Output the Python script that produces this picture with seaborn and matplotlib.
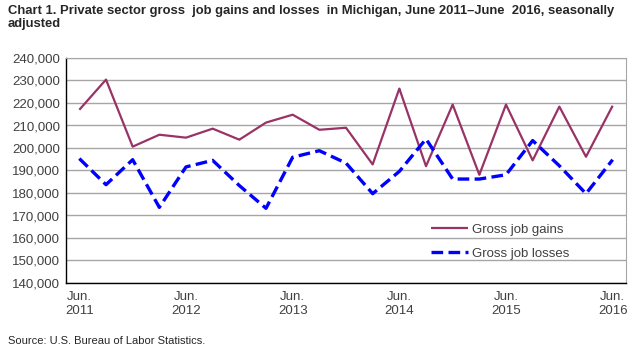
import matplotlib
matplotlib.use("Agg")
import matplotlib.pyplot as plt
import matplotlib.ticker as ticker
import seaborn as sns
import numpy as np
import pandas as pd

# quarterly, June 2011 .. June 2016
quarters = list(range(21))
tick_labels = ['Jun.\n2011', 'Jun.\n2012', 'Jun.\n2013', 'Jun.\n2014', 'Jun.\n2015', 'Jun.\n2016']
gains = [217000, 230400, 200600, 205900, 204600, 208600, 203700, 211300, 214800, 208100,
         209000, 192700, 226400, 191900, 219300, 188100, 219300, 194500, 218400, 196100, 218800]
losses = [195300, 183700, 194800, 173600, 191600, 194500, 183300, 173200, 195900, 198800,
          193300, 179700, 189600, 204000, 186200, 186200, 188100, 203300, 192100, 179700, 194800]

df = pd.DataFrame({
    'q': quarters * 2,
    'value': gains + losses,
    'series': ['Gross job gains'] * 21 + ['Gross job losses'] * 21,
})

sns.set_style('white')
plt.rcParams['font.family'] = ['Liberation Sans', 'DejaVu Sans']

fig = plt.figure(figsize=(6.42, 3.5), dpi=100)
ax = fig.add_axes([66 / 642, 1 - 283 / 350, 560 / 642, 225 / 350])

sns.lineplot(data=df, x='q', y='value', hue='series', style='series',
             palette=['#993366', '#0000ff'], dashes=[(1, 0), (3.5, 1.6)],
             size='series', sizes=[1.6, 2.4], ax=ax, legend=True)

ax.set_xlim(-0.5, 20.5)
ax.set_ylim(140000, 240000)
ax.yaxis.set_major_locator(ticker.MultipleLocator(10000))
ax.yaxis.set_major_formatter(ticker.FuncFormatter(lambda v, p: '{:,.0f}'.format(v)))
ax.set_xticks(quarters[::4])
ax.set_xticklabels(tick_labels)
ax.set_xticks(np.arange(-0.5, 21, 1), minor=True)
ax.tick_params(axis='x', which='major', length=0, pad=6, labelsize=9.5, labelcolor='#404040')
ax.tick_params(axis='x', which='minor', length=4, width=1, color='black', direction='out')
ax.tick_params(axis='y', length=0, pad=4, labelsize=9.5, labelcolor='#404040')
ax.grid(axis='y', color='#a6a6a6', linewidth=1)
ax.set_axisbelow(True)
ax.set_xlabel('')
ax.set_ylabel('')
for s in ['top', 'right']:
    ax.spines[s].set_color('#a6a6a6')
for s in ['left', 'bottom']:
    ax.spines[s].set_color('black')
    ax.spines[s].set_linewidth(1)

handles, labels = ax.get_legend_handles_labels()
leg = ax.legend(handles[:2], labels[:2], loc='lower left', bbox_to_anchor=(0.63, 0.05),
                frameon=False, fontsize=9.5, handlelength=2.8, labelspacing=0.9,
                handletextpad=0.3)
for t in leg.get_texts():
    t.set_color('#404040')

fig.text(8 / 642, 1 - 5 / 350,
         'Chart 1. Private sector gross  job gains and losses  in Michigan, June 2011\u2013June  2016, seasonally\nadjusted',
         ha='left', va='top', fontsize=9.4, fontweight='bold', linespacing=1.1)
fig.text(8 / 642, 1 - 341 / 350, 'Source: U.S. Bureau of Labor Statistics.',
         ha='left', va='center', fontsize=8)

fig.savefig('out.png', dpi=100)
